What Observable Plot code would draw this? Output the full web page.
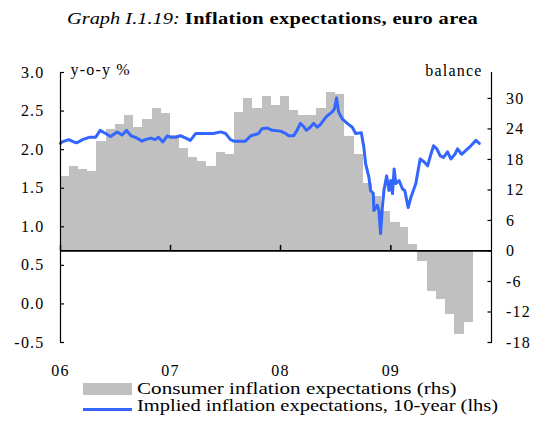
<!DOCTYPE html>
<html><head><meta charset="utf-8">
<script src="https://cdn.jsdelivr.net/npm/d3@7"></script>
<script src="https://cdn.jsdelivr.net/npm/@observablehq/plot@0.6"></script>
<style>
body{margin:0;background:#fff;}
#wrap{position:relative;width:534px;height:421px;font-family:"Liberation Serif","Times New Roman",serif;color:#000;overflow:hidden;background:#fff;}
#title{position:absolute;left:67px;top:9px;font-size:17px;line-height:20px;white-space:nowrap;transform-origin:left center;transform:scaleX(1.2);}
#title i{font-style:italic;}
#title b{font-weight:bold;letter-spacing:0.3px;}
.layer{position:absolute;left:0;top:40px;}
.lrow{position:absolute;left:83px;height:16px;white-space:nowrap;font-size:16px;line-height:16px;}
.lrow .sym{position:absolute;left:0;}
.lrow .txt{position:absolute;left:54px;top:0;transform-origin:left center;}
</style></head>
<body>
<div id="wrap">
  <div id="title"><i>Graph I.1.19:</i> <b>Inflation expectations, euro area</b></div>
  <div id="bars" class="layer"></div>
  <div id="lines" class="layer"></div>
  <div id="legend"></div>
</div>
<script>
// ---- data ----
const barMonths = [
 "2006-01","2006-02","2006-03","2006-04","2006-05","2006-06","2006-07","2006-08","2006-09","2006-10","2006-11","2006-12",
 "2007-01","2007-02","2007-03","2007-04","2007-05","2007-06","2007-07","2007-08","2007-09","2007-10","2007-11","2007-12",
 "2008-01","2008-02","2008-03","2008-04","2008-05","2008-06","2008-07","2008-08","2008-09","2008-10","2008-11","2008-12",
 "2009-01","2009-02","2009-03","2009-04","2009-05","2009-06","2009-07","2009-08","2009-09"];
const consumerBalance = [
 14.6,16.6,16.0,15.6,21.6,23.9,24.9,26.7,24.3,25.8,28.1,27.0,
 22.8,20.1,18.4,17.6,16.6,19.4,18.9,27.2,30.0,28.0,30.4,28.7,
 30.4,27.6,26.7,26.7,28.0,31.2,30.8,22.5,18.9,13.2,10.7,7.8,
 5.6,4.6,1.2,-2.1,-8.0,-9.6,-12.4,-16.5,-14.1];
// implied 10-year inflation expectations (lhs): decimal year, percent
const impliedYears = [
 2006.000,2006.015,2006.075,2006.120,2006.150,2006.200,2006.260,2006.320,2006.360,2006.410,2006.455,2006.515,
 2006.560,2006.600,2006.640,2006.680,2006.740,2006.770,2006.820,2006.860,2006.890,2006.930,2006.970,2007.000,
 2007.045,2007.090,2007.140,2007.180,2007.230,2007.290,2007.330,2007.390,2007.455,2007.500,2007.545,2007.575,
 2007.680,2007.730,2007.800,2007.830,2007.880,2007.925,2008.000,2008.045,2008.075,2008.120,2008.150,2008.180,
 2008.210,2008.235,2008.270,2008.300,2008.335,2008.365,2008.400,2008.425,2008.470,2008.490,2008.509,2008.527,
 2008.561,2008.606,2008.652,2008.682,2008.734,2008.757,2008.773,2008.803,2008.818,2008.843,2008.848,2008.879,
 2008.894,2008.909,2008.925,2008.939,2008.964,2008.985,2009.000,2009.015,2009.030,2009.045,2009.075,2009.106,
 2009.127,2009.157,2009.182,2009.227,2009.266,2009.303,2009.334,2009.364,2009.388,2009.418,2009.448,2009.479,
 2009.515,2009.545,2009.582,2009.606,2009.643,2009.682,2009.727,2009.773,2009.803];
const impliedValues = [
 2.08,2.10,2.13,2.10,2.09,2.13,2.16,2.16,2.25,2.21,2.17,2.23,
 2.19,2.25,2.18,2.16,2.11,2.13,2.15,2.13,2.16,2.10,2.18,2.16,
 2.16,2.18,2.15,2.12,2.21,2.21,2.21,2.21,2.23,2.21,2.13,2.11,
 2.11,2.18,2.21,2.27,2.28,2.25,2.24,2.21,2.18,2.18,2.25,2.34,
 2.30,2.25,2.29,2.34,2.29,2.33,2.40,2.44,2.49,2.53,2.67,2.49,
 2.40,2.34,2.29,2.21,2.22,2.03,1.82,1.64,1.47,1.43,1.21,1.28,
 1.21,0.91,1.25,1.47,1.66,1.47,1.60,1.43,1.75,1.56,1.60,1.49,
 1.47,1.25,1.38,1.56,1.88,1.84,1.79,1.94,2.05,2.01,1.92,1.90,
 1.97,1.88,1.94,2.01,1.94,1.99,2.05,2.12,2.08];
const leftTicks = [-0.5,0.0,0.5,1.0,1.5,2.0,2.5,3.0];
const rightTicks = [-18,-12,-6,0,6,12,18,24,30];
const yearTicks = ["2006-01-01","2007-01-01","2008-01-01","2009-01-01"];
const seriesNames = ["Consumer inflation expectations (rhs)","Implied inflation expectations, 10-year (lhs)"];
const leftLabel = "y-o-y %";
const rightLabel = "balance";
const leftDomain = [-0.5, 3.0];
const rightDomain = [-18, 35.1];
const xDomainStr = ["2006-01-01","2009-12-01"];

// ---- build tables ----
const toDate = s => new Date(s + (s.length === 7 ? "-01" : "") + "T00:00:00Z");
const bars = barMonths.map((m, i) => {
  const start = toDate(m);
  const end = new Date(Date.UTC(start.getUTCFullYear(), start.getUTCMonth() + 1, 1));
  return {start, end, value: consumerBalance[i]};
});
const yearMs = 365.25 * 24 * 3600 * 1000;
const implied = impliedYears.map((y, i) => {
  const yr = Math.floor(y);
  return {date: new Date(Date.UTC(yr, 0, 1) + (y - yr) * yearMs), value: impliedValues[i]};
});
const xDomain = xDomainStr.map(toDate);
const yearDates = yearTicks.map(toDate);

const W = 534, H = 340, MT = 32, MB = 38, ML = 60, MR = 43;
const FONT = '"Liberation Serif","Times New Roman",serif';
const baseStyle = {fontFamily: FONT, fontSize: "16px", letterSpacing: "1.2px", background: "transparent", overflow: "visible", color: "#000"};

const barPlot = Plot.plot({
  width: W, height: H, marginTop: MT, marginBottom: MB, marginLeft: ML, marginRight: MR,
  style: baseStyle,
  x: {type: "utc", domain: xDomain, axis: null},
  y: {domain: rightDomain, axis: null},
  marks: [
    Plot.rectY(bars, {x1: "start", x2: "end", y: "value", fill: "#c0c0c0", shapeRendering: "crispEdges"}),
    Plot.ruleY([0], {stroke: "#000", strokeWidth: 1.8}),
    Plot.ruleX(yearDates, {x: d => d, y1: 0, y2: 1.1, stroke: "#000", strokeWidth: 1.5}),
    Plot.ruleX([xDomain[1]], {stroke: "#000", strokeWidth: 1.2}),
    Plot.axisY(rightTicks, {anchor: "right", label: null, tickSize: -4.5, tickPadding: 19, tickFormat: d => String(d), strokeWidth: 1.2}),
    Plot.text([rightLabel], {frameAnchor: "top-right", dx: -9, dy: -2, lineAnchor: "middle", textAnchor: "end"})
  ]
});
document.getElementById("bars").appendChild(barPlot);

const linePlot = Plot.plot({
  width: W, height: H, marginTop: MT, marginBottom: MB, marginLeft: ML, marginRight: MR,
  style: baseStyle,
  x: {type: "utc", domain: xDomain},
  y: {domain: leftDomain},
  marks: [
    Plot.line(implied, {x: "date", y: "value", stroke: "#3366ff", strokeWidth: 3, strokeLinejoin: "round", strokeLinecap: "round"}),
    Plot.ruleX([xDomain[0]], {stroke: "#000", strokeWidth: 1.2}),
    Plot.axisY(leftTicks, {anchor: "left", label: null, tickSize: -4, tickPadding: 20, tickFormat: d => d.toFixed(1), strokeWidth: 1.2}),
    Plot.axisX(yearDates, {anchor: "bottom", label: null, tickSize: 0, tickPadding: 22, tickFormat: d3.utcFormat("%y")}),
    Plot.text([leftLabel], {frameAnchor: "top-left", dx: 10, dy: -3, lineAnchor: "middle", textAnchor: "start"})
  ]
});
document.getElementById("lines").appendChild(linePlot);

// ---- legend ----
const legend = document.getElementById("legend");
const legendScale = [1.32, 1.28];
seriesNames.forEach((name, i) => {
  const row = document.createElement("div");
  row.className = "lrow";
  row.style.top = (381 + i * 16.5) + "px";
  const sym = document.createElement("span");
  sym.className = "sym";
  if (i === 0) {
    Object.assign(sym.style, {top: "2px", width: "49px", height: "12px", background: "#c0c0c0"});
  } else {
    Object.assign(sym.style, {top: "10px", width: "49px", height: "3px", background: "#3366ff"});
  }
  const txt = document.createElement("span");
  txt.className = "txt";
  txt.style.transform = "scaleX(" + legendScale[i] + ")";
  txt.textContent = name;
  row.appendChild(sym); row.appendChild(txt);
  legend.appendChild(row);
});
</script>
</body></html>
